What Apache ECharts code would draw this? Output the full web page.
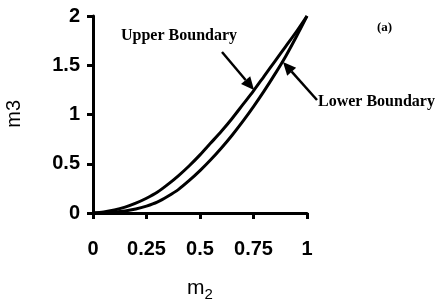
<!DOCTYPE html>
<html>
<head>
<meta charset="utf-8">
<script src="https://cdn.jsdelivr.net/npm/echarts@6/dist/echarts.min.js"></script>
<style>
html,body{margin:0;padding:0;background:#fff;}
#chart{width:436px;height:307px;}
</style>
</head>
<body>
<div id="chart"></div>
<script>
// m2 values (x) and the two boundaries of m3
var m2Vals    = [0, 0.05, 0.1, 0.15, 0.2, 0.25, 0.3, 0.35, 0.4, 0.45, 0.5, 0.55, 0.6, 0.65, 0.7, 0.75, 0.8, 0.85, 0.9, 0.95, 1.0];
var upperVals = [0, 0.01, 0.03, 0.06, 0.10, 0.15, 0.21, 0.29, 0.38, 0.48, 0.59, 0.71, 0.83, 0.96, 1.10, 1.24, 1.39, 1.54, 1.69, 1.84, 2.0];
var lowerVals = [0, 0.00, 0.01, 0.02, 0.04, 0.07, 0.11, 0.17, 0.24, 0.33, 0.43, 0.54, 0.66, 0.79, 0.93, 1.08, 1.24, 1.41, 1.59, 1.79, 2.0];
var xTicks = [0, 0.25, 0.5, 0.75, 1];
var yTicks = [0, 0.5, 1, 1.5, 2];

function pairs(xs, ys){
  var out = [];
  for(var i=0;i<xs.length;i++){ out.push([xs[i], ys[i]]); }
  return out;
}

// arrow made of a line and a filled head (annotation only)
function arrow(x1, y1, x2, y2){
  var dx = x2-x1, dy = y2-y1, len = Math.sqrt(dx*dx+dy*dy);
  var ux = dx/len, uy = dy/len, hl = 13, hw = 6;
  var bx = x2-ux*hl, by = y2-uy*hl;
  return [
    {type:'line', shape:{x1:x1,y1:y1,x2:bx,y2:by}, style:{stroke:'#000',lineWidth:2.5}},
    {type:'polygon', shape:{points:[[x2,y2],[bx-uy*hw,by+ux*hw],[bx+uy*hw,by-ux*hw]]}, style:{fill:'#000'}}
  ];
}

var myChart = echarts.init(document.getElementById('chart'));

var tickFont = {fontFamily:'Liberation Sans', fontWeight:'bold', fontSize:20, color:'#000'};
var noteFont = {fontFamily:'Liberation Serif', fontWeight:'bold', fontSize:16, fill:'#000'};

var graphics = [
  {type:'text', left:121, top:28, style:Object.assign({text:'Upper Boundary'}, noteFont)},
  {type:'text', left:318, top:94, style:Object.assign({text:'Lower Boundary'}, noteFont)},
  {type:'text', left:377, top:21, style:Object.assign({text:'(a)'}, noteFont, {fontSize:13})},
  {type:'text', left:4, top:100, rotation:Math.PI/2, originX:0, originY:0,
   style:{text:'m3', fontFamily:'Liberation Sans', fontSize:20, fill:'#000'}}
].concat(arrow(222, 52, 254, 90)).concat(arrow(317, 100, 283, 62));

option = {
  animation:false,
  backgroundColor:'#fff',
  grid:{left:93, right:129, top:16, bottom:93.5},
  xAxis:{
    type:'value', min:0, max:1, interval:0.25,
    name:'{m|m}{s|2}', nameLocation:'middle', nameGap:62,
    nameTextStyle:{rich:{
      m:{fontFamily:'Liberation Sans', fontSize:21, color:'#000'},
      s:{fontFamily:'Liberation Sans', fontSize:15, color:'#000', verticalAlign:'bottom', padding:[12,0,0,0]}
    }},
    axisLine:{lineStyle:{color:'#000', width:3}},
    axisTick:{show:true, length:6, lineStyle:{color:'#000', width:3}},
    splitLine:{show:false},
    axisLabel:Object.assign({margin:26, formatter:function(v){ return xTicks.indexOf(v)>=0 ? String(v) : ''; }}, tickFont)
  },
  yAxis:{
    type:'value', min:0, max:2, interval:0.5,
    axisLine:{show:true, lineStyle:{color:'#000', width:3}},
    axisTick:{show:true, length:6, lineStyle:{color:'#000', width:3}},
    splitLine:{show:false},
    axisLabel:Object.assign({margin:13, formatter:function(v){ return yTicks.indexOf(v)>=0 ? String(v) : ''; }}, tickFont)
  },
  series:[
    {name:'Upper Boundary', type:'line', data:pairs(m2Vals, upperVals), smooth:0.3, showSymbol:false,
     lineStyle:{color:'#000', width:3}},
    {name:'Lower Boundary', type:'line', data:pairs(m2Vals, lowerVals), smooth:0.3, showSymbol:false,
     lineStyle:{color:'#000', width:3}}
  ],
  graphic:graphics
};

if (option && typeof option === "object") {
  myChart.setOption(option, true);
}
</script>
</body>
</html>
